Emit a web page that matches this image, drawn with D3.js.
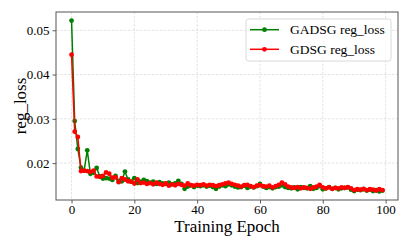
<!DOCTYPE html>
<html>
<head>
<meta charset="utf-8">
<script src="https://cdn.jsdelivr.net/npm/d3@7"></script>
<style>
  body { margin: 0; background: #fff; }
  svg { display: block; font-family: "Liberation Serif", "DejaVu Serif", serif; }
</style>
</head>
<body>
<svg id="chart" width="410" height="246"></svg>
<script>
// epochs 0..99
const epochs = d3.range(100);

const gadsgLoss = [
  0.0522, 0.0295, 0.0232, 0.0190, 0.0183, 0.0229, 0.0176, 0.0178, 0.0189, 0.0170,
  0.0165, 0.0166, 0.0165, 0.0162, 0.0171, 0.0160, 0.0159, 0.0181, 0.0163, 0.0158,
  0.0166, 0.0155, 0.0158, 0.0162, 0.0159, 0.0156, 0.0158, 0.0153, 0.0157, 0.0154,
  0.0153, 0.0156, 0.0152, 0.0154, 0.0160, 0.0153, 0.0142, 0.0147, 0.0150, 0.0146,
  0.0149, 0.0148, 0.0150, 0.0147, 0.0149, 0.0146, 0.0142, 0.0147, 0.0150, 0.0148,
  0.0152, 0.0150, 0.0147, 0.0145, 0.0146, 0.0149, 0.0144, 0.0147, 0.0145, 0.0148,
  0.0153, 0.0147, 0.0144, 0.0146, 0.0143, 0.0146, 0.0147, 0.0150, 0.0146, 0.0144,
  0.0143, 0.0145, 0.0141, 0.0146, 0.0144, 0.0143, 0.0148, 0.0142, 0.0144, 0.0148,
  0.0141, 0.0143, 0.0146, 0.0142, 0.0144, 0.0141, 0.0143, 0.0144, 0.0145, 0.0140,
  0.0137, 0.0140, 0.0139, 0.0141, 0.0138, 0.0140, 0.0137, 0.0139, 0.0136, 0.0138
];

const gdsgLoss = [
  0.0445, 0.0271, 0.0259, 0.0182, 0.0183, 0.0182, 0.0180, 0.0183, 0.0170, 0.0169,
  0.0171, 0.0179, 0.0176, 0.0167, 0.0168, 0.0157, 0.0166, 0.0163, 0.0159, 0.0158,
  0.0154, 0.0163, 0.0155, 0.0156, 0.0153, 0.0155, 0.0152, 0.0156, 0.0153, 0.0151,
  0.0154, 0.0149, 0.0152, 0.0150, 0.0153, 0.0151, 0.0149, 0.0154, 0.0150, 0.0149,
  0.0151, 0.0150, 0.0152, 0.0149, 0.0151, 0.0150, 0.0148, 0.0150, 0.0152, 0.0154,
  0.0156, 0.0153, 0.0151, 0.0149, 0.0147, 0.0150, 0.0151, 0.0148, 0.0146, 0.0149,
  0.0150, 0.0148, 0.0147, 0.0149, 0.0145, 0.0148, 0.0151, 0.0156, 0.0152, 0.0147,
  0.0145, 0.0144, 0.0146, 0.0143, 0.0145, 0.0144, 0.0142, 0.0145, 0.0147, 0.0151,
  0.0145, 0.0143, 0.0145, 0.0142, 0.0144, 0.0143, 0.0145, 0.0144, 0.0146, 0.0143,
  0.0139, 0.0141, 0.0140, 0.0142, 0.0139, 0.0141, 0.0140, 0.0138, 0.0141, 0.0139
];

const seriesNames = ["GADSG reg_loss", "GDSG reg_loss"];
const seriesColors = ["#008000", "#ff0000"];
const xTicks = [0, 20, 40, 60, 80, 100];
const yTicks = [0.02, 0.03, 0.04, 0.05];

const margin = {top: 12, right: 12, bottom: 46, left: 56};
const width = 410, height = 246;

const svg = d3.select("#chart");

const x = d3.scaleLinear()
  .domain([-4.95, 103.95])
  .range([margin.left, width - margin.right]);

const y = d3.scaleLinear()
  .domain([0.01167, 0.05413])
  .range([height - margin.bottom, margin.top]);

// grid
const grid = svg.append("g")
  .attr("stroke", "#b0b0b0")
  .attr("stroke-width", 0.7)
  .attr("stroke-dasharray", "2.5,1.5")
  .attr("stroke-opacity", 0.5);

grid.selectAll("line.gx")
  .data(xTicks)
  .join("line")
  .attr("x1", d => x(d)).attr("x2", d => x(d))
  .attr("y1", margin.top).attr("y2", height - margin.bottom);

grid.selectAll("line.gy")
  .data(yTicks)
  .join("line")
  .attr("class", "gy")
  .attr("x1", margin.left).attr("x2", width - margin.right)
  .attr("y1", d => y(d)).attr("y2", d => y(d));

// axes
const xAxis = svg.append("g")
  .attr("transform", `translate(0,${height - margin.bottom})`)
  .call(d3.axisBottom(x).tickValues(xTicks).tickSize(3.5).tickPadding(1.5).tickFormat(d3.format("d")));

const yAxis = svg.append("g")
  .attr("transform", `translate(${margin.left},0)`)
  .call(d3.axisLeft(y).tickValues(yTicks).tickSize(3.5).tickPadding(3).tickFormat(d3.format(".2f")));

[xAxis, yAxis].forEach(g => {
  g.select(".domain").remove();
  g.selectAll(".tick line").attr("stroke", "#333").attr("stroke-width", 0.8);
  g.selectAll(".tick text")
    .attr("fill", "#000")
    .attr("font-size", 13)
    .attr("font-family", "Liberation Serif, serif");
});

// frame
svg.append("rect")
  .attr("x", margin.left)
  .attr("y", margin.top)
  .attr("width", width - margin.left - margin.right)
  .attr("height", height - margin.top - margin.bottom)
  .attr("fill", "none")
  .attr("stroke", "#555")
  .attr("stroke-width", 1);

// lines
const series = [gadsgLoss, gdsgLoss];
const line = d3.line()
  .x((d, i) => x(epochs[i]))
  .y(d => y(d));

series.forEach((vals, k) => {
  const g = svg.append("g");
  g.append("path")
    .datum(vals)
    .attr("fill", "none")
    .attr("stroke", seriesColors[k])
    .attr("stroke-width", 1.5)
    .attr("stroke-linejoin", "round")
    .attr("d", line);
  g.selectAll("circle")
    .data(vals)
    .join("circle")
    .attr("cx", (d, i) => x(epochs[i]))
    .attr("cy", d => y(d))
    .attr("r", 2.4)
    .attr("fill", seriesColors[k]);
});

// axis labels
svg.append("text")
  .attr("x", (margin.left + width - margin.right) / 2)
  .attr("y", 232)
  .attr("text-anchor", "middle")
  .attr("font-size", 17)
  .text("Training Epoch");

svg.append("text")
  .attr("transform", `translate(26,${(margin.top + height - margin.bottom) / 2}) rotate(-90)`)
  .attr("text-anchor", "middle")
  .attr("font-size", 17)
  .text("reg_loss");

// legend
const legend = svg.append("g");
legend.append("rect")
  .attr("x", 246).attr("y", 19)
  .attr("width", 145).attr("height", 42)
  .attr("rx", 2.5)
  .attr("fill", "#fff")
  .attr("fill-opacity", 0.8)
  .attr("stroke", "#d0d0d0")
  .attr("stroke-width", 0.8);

seriesNames.forEach((name, k) => {
  const ly = 29.7 + k * 19.6;
  legend.append("line")
    .attr("x1", 250).attr("x2", 279)
    .attr("y1", ly).attr("y2", ly)
    .attr("stroke", seriesColors[k])
    .attr("stroke-width", 1.5);
  legend.append("circle")
    .attr("cx", 264.5).attr("cy", ly).attr("r", 2.4)
    .attr("fill", seriesColors[k]);
  legend.append("text")
    .attr("x", 290).attr("y", ly + 4.6)
    .attr("font-size", 13.5)
    .text(name);
});
</script>
</body>
</html>
